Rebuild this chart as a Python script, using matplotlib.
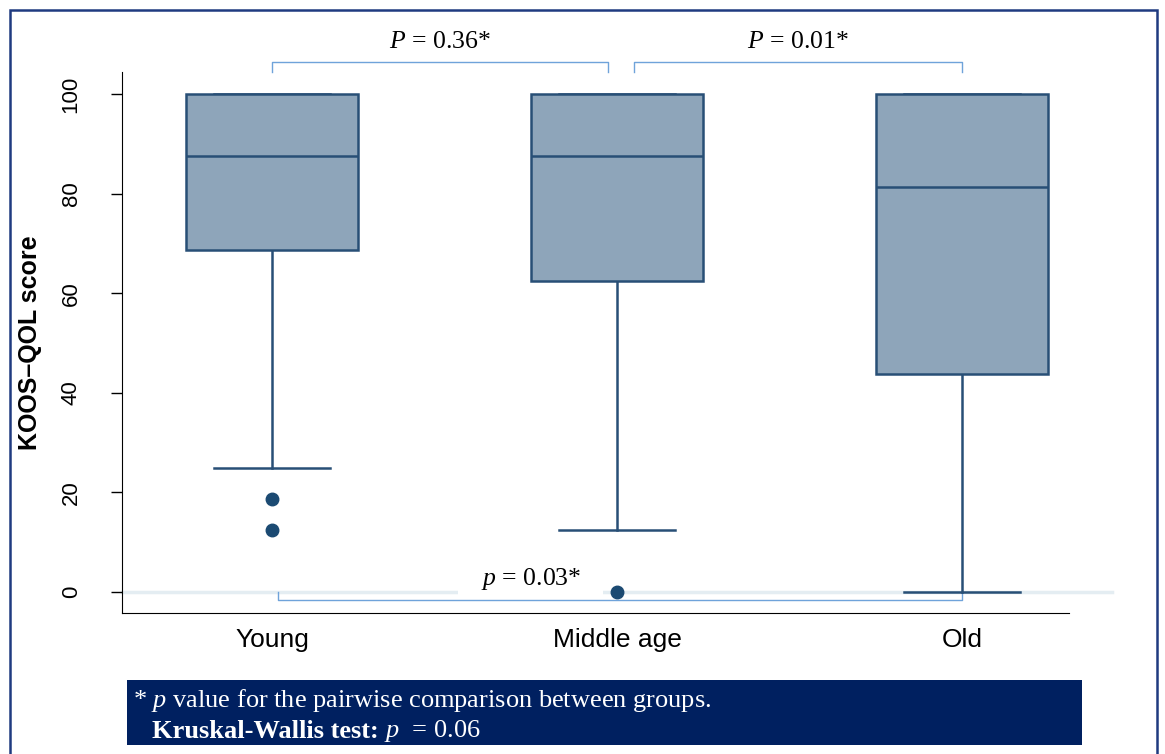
import matplotlib
matplotlib.use('Agg')
import matplotlib.pyplot as plt
from matplotlib.patches import Rectangle

# data
groups = ['Young', 'Middle age', 'Old']
q1 = [68.75, 62.5, 43.75]
medians = [87.5, 87.5, 81.25]
q3 = [100, 100, 100]
whis_lo = [25, 12.5, 0]
whis_hi = [100, 100, 100]
outliers = [[18.75, 12.5], [0], []]
y_ticks = [0, 20, 40, 60, 80, 100]

# pairwise comparisons: (group a, group b, label)
pairs_top = [(0, 1, '0.36*'), (1, 2, '0.01*')]
pair_bottom = (0, 2, '0.03*')

plt.rcParams['mathtext.fontset'] = 'custom'
plt.rcParams['mathtext.rm'] = 'Liberation Serif'
plt.rcParams['mathtext.it'] = 'Liberation Serif:italic'
plt.rcParams['mathtext.bf'] = 'Liberation Serif:bold'
plt.rcParams['font.family'] = 'Liberation Sans'

box_face = '#8ea5ba'
box_edge = '#284f76'
bracket_col = '#6fa3da'

fig = plt.figure(figsize=(11.65, 7.54), dpi=100)
ax = fig.add_axes([122/1165, 141/754, 947/1165, 541/754])

pos = [1, 2, 3]
stats = []
for i in range(len(groups)):
    stats.append({'label': groups[i], 'q1': q1[i], 'med': medians[i], 'q3': q3[i],
                  'whislo': whis_lo[i], 'whishi': whis_hi[i], 'fliers': outliers[i]})

ax.bxp(stats, positions=pos, widths=0.5, capwidths=0.336, patch_artist=True,
       boxprops=dict(facecolor=box_face, edgecolor=box_edge, linewidth=1.8, zorder=3),
       medianprops=dict(color=box_edge, linewidth=1.8, zorder=3.1),
       whiskerprops=dict(color=box_edge, linewidth=1.8, zorder=2),
       capprops=dict(color=box_edge, linewidth=1.8, zorder=2),
       flierprops=dict(marker='o', markerfacecolor='#1b4a72', markeredgecolor='#1b4a72',
                       markersize=9, zorder=3))

ax.set_xlim(0.565, 3.31)
ax.set_ylim(-4.2, 104.4)

# light line at zero, runs a bit past the axis
ax.plot([0.565, 3.436], [0, 0], color='#e4edf2', lw=2.5, zorder=0, clip_on=False)

ax.spines['top'].set_visible(False)
ax.spines['right'].set_visible(False)
ax.set_yticks(y_ticks)
ax.set_yticklabels([str(t) for t in y_ticks], rotation=90, va='center', fontsize=16)
ax.tick_params(axis='y', length=8, width=1, pad=21)
ax.tick_params(axis='x', length=0, pad=11, labelsize=19)
ax.set_xticks(pos)
ax.set_xticklabels(groups)
ax.set_ylabel('KOOS\u2013QOL score', fontsize=18, fontweight='bold')
ax.yaxis.set_label_coords(-0.084, 0.5)

# brackets on top
for a, b, lab in pairs_top:
    xa, xb = pos[a], pos[b]
    if a == 1:
        xa += 0.05
    else:
        xb -= 0.026
    ax.plot([xa, xa, xb, xb], [104.4, 106.4, 106.4, 104.4], color=bracket_col, lw=1,
            clip_on=False)
    ax.text((xa + xb) / 2, 110.4, '$P$ = ' + lab, ha='center', va='center',
            fontsize=18.5, family='Liberation Serif')

# bracket at the bottom
a, b, lab = pair_bottom
xa, xb = pos[a] + 0.017, pos[b]
ax.plot([xa, xa, xb, xb], [0, -1.6, -1.6, 0], color=bracket_col, lw=1, zorder=1,
        clip_on=False)
ax.text(1.75, 2.6, '$p$ = ' + lab, ha='center', va='center', fontsize=18.5,
        family='Liberation Serif', zorder=0.5,
        bbox=dict(facecolor='white', edgecolor='none', pad=16))

# outer frame
fig.add_artist(Rectangle((10/1165, -0.05), 1147/1165, 1.05 - 10/754,
                         transform=fig.transFigure, fill=False, edgecolor='#1f3a80',
                         lw=1.8))

# footer box
fig.add_artist(Rectangle((127/1165, 9/754), 955/1165, 65/754, transform=fig.transFigure,
                         facecolor='#002060', edgecolor='none'))
fig.text(133/1165, (754-700)/754, '* $p$ value for the pairwise comparison between groups.',
         color='white', fontsize=19, family='Liberation Serif', va='center')
t = fig.text(152/1165, (754-731)/754, 'Kruskal-Wallis test:', color='white', fontsize=19,
             family='Liberation Serif', fontweight='bold', va='center')
fig.canvas.draw()
bb = t.get_window_extent()
fig.text(bb.x1 / fig.bbox.width, (754-731)/754, ' $p$  = 0.06', color='white',
         fontsize=19, family='Liberation Serif', va='center')

fig.savefig('out.png', dpi=100)
